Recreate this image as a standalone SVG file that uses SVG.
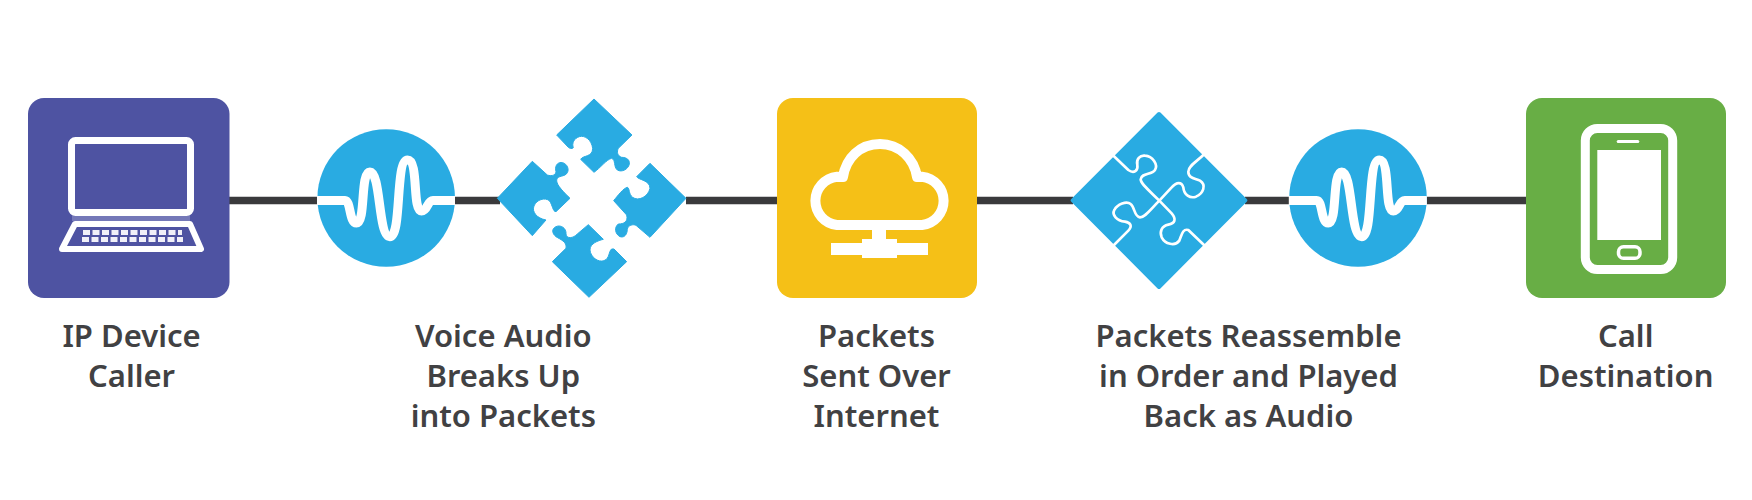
<svg xmlns="http://www.w3.org/2000/svg" width="1752" height="500" viewBox="0 0 1752 500">
<style>
.lbl{font-family:"Noto Sans","Lato",sans-serif;font-weight:600;font-size:31px;fill:#414143;text-anchor:middle}
.blue{fill:#29abe2}
.w{fill:none;stroke:#fff;stroke-linejoin:round;stroke-linecap:round}
.conn{stroke:#3a3a3c;stroke-width:7.5;fill:none}
</style>
<defs>
<g id="pulse">
<circle class="blue" cx="386.200" cy="198" r="68.800"/>
<path fill="none" stroke="#fff" stroke-width="9" d="M317,200.500H345C351,200.500 349,223 356.500,223C366,223 360,172 369.900,172C381,172 378,236.700 389.900,236.700C402,236.700 395,160 407.500,160C419,160 412,211 421.500,211C428,211 427,200.500 433,200.500H455"/>
</g>
</defs>
<rect width="1752" height="500" fill="#fff"/>
<g id="connectors" class="conn">
<path d="M228,200.500H318M455,200.500H500M686,200.500H778M976,200.500H1073M1245,200.500H1290M1427,200.500H1527"/>
</g>
<g id="node-caller">
<rect x="28" y="98" width="201.500" height="200" rx="16" fill="#4e53a2"/>
<rect x="72" y="216" width="118" height="5" fill="#7478b8"/>
<rect class="w" x="71.500" y="140.500" width="119" height="72" rx="4" stroke-width="7"/>
<path class="w" stroke-width="6" d="M75,224H190L201,249H62Z"/>
<path fill="none" stroke="#f0f0f8" stroke-width="5" stroke-dasharray="7 2.500" d="M83,232.500H182M82,239.500H183"/>
<text class="lbl" x="131.500" y="347">IP Device</text>
<text class="lbl" x="131.500" y="387">Caller</text>
</g>
<g id="node-voice-pulse"><use href="#pulse"/></g>
<g id="node-packets-split">
<g class="blue" transform="translate(470,80) scale(.3333)" stroke="#29abe2" stroke-width="3" stroke-linejoin="round">
<path d="M372,57L486,165L445,205C440,215 442,228 455,232C470,232 480,240 478,252C475,268 455,278 442,270C430,260 438,240 425,235C410,238 390,265 372,277L332,238C340,225 368,232 368,205C365,180 345,165 328,170C312,175 305,190 310,203C305,208 298,205 295,202L260,165Z"/>
<path d="M82,355L187,244L232,285C245,290 262,285 257,270C255,255 265,245 278,248C292,252 298,268 292,278C285,292 262,285 260,300C258,315 285,340 300,355L258,395C248,395 248,375 238,362C225,352 200,358 192,378C185,395 200,415 228,420L187,467Z"/>
<path d="M648,355L540,250L500,290C505,300 540,300 540,325C535,350 505,365 488,352C475,342 480,325 472,322C460,325 445,345 431,362L470,405C475,425 462,432 445,432C432,442 435,462 450,470C465,475 472,460 472,448C474,435 490,432 498,436L540,472Z"/>
<path d="M357,652L247,545L288,505C292,485 270,478 258,470C245,460 245,445 258,440C272,433 290,445 288,462C290,478 310,475 322,462L355,434L400,478C385,482 360,490 360,510C362,532 385,548 402,542C420,535 415,515 425,507L432,507L470,545Z"/>
</g>
</g>
<g id="node-internet">
<rect x="777" y="98" width="200" height="200" rx="16" fill="#f5c017"/>
<path class="w" stroke-width="10" d="M843,177C846,158 860,144 880,144C899,144 914,158 917,177L922,176.700A24.300,24.300 0 0 1 922,225H837A24.300,24.300 0 0 1 837,176.700Z"/>
<path fill="#fff" d="M872,229H886V239H897V243H928V255H897V258H862V255H831V243H862V239H872Z"/>
</g>
<g id="node-packets-joined">
<path class="blue" stroke="#29abe2" stroke-width="4" stroke-linejoin="round" d="M1159,114L1245.300,200.300L1159,287L1072.700,200.300Z"/>
<g transform="translate(1060,100) scale(.3333)">
<path class="w" stroke-width="8" stroke-linecap="butt" d="M158,165L205,210C222,222 235,212 232,195C228,178 240,165 255,167C278,168 295,195 285,210C275,225 245,218 242,238C242,250 260,265 298,302L335,340C350,358 345,370 325,374C305,378 298,395 305,412C315,432 345,440 358,422C365,405 368,385 385,390L432,435"/>
<path class="w" stroke-width="8" stroke-linecap="butt" d="M162,435L205,392C218,378 212,368 195,365C170,362 155,345 163,330C172,312 200,302 212,312C225,322 222,350 240,352C255,352 270,330 298,302L335,262C350,245 365,245 370,262C372,285 390,296 408,290C430,280 440,255 420,242C405,235 385,235 385,215C385,198 410,185 430,165"/>
</g>
</g>
<g id="node-audio-pulse"><use href="#pulse" x="971.800"/></g>
<g id="node-destination">
<rect x="1526" y="98" width="200" height="200" rx="16" fill="#68ae45"/>
<rect class="w" x="1585.300" y="128.500" width="87.400" height="141" rx="12" stroke-width="9"/>
<rect x="1597.300" y="150" width="63.700" height="90" fill="#fff"/>
<rect x="1616.700" y="140" width="22.600" height="3" rx="1.500" fill="#fff"/>
<rect class="w" x="1618.500" y="246.800" width="21.500" height="11.500" rx="5" stroke-width="3.500"/>
<text class="lbl" x="1625.700" y="347">Call</text>
<text class="lbl" x="1625.700" y="387">Destination</text>
</g>
<g id="labels">
<text class="lbl" x="503.300" y="347">Voice Audio</text>
<text class="lbl" x="503.300" y="387">Breaks Up</text>
<text class="lbl" x="503.300" y="427">into Packets</text>
<text class="lbl" x="876.500" y="347">Packets</text>
<text class="lbl" x="876.500" y="387">Sent Over</text>
<text class="lbl" x="876.500" y="427">Internet</text>
<text class="lbl" x="1248.500" y="347">Packets Reassemble</text>
<text class="lbl" x="1248.500" y="387">in Order and Played</text>
<text class="lbl" x="1248.500" y="427">Back as Audio</text>
</g>
</svg>
